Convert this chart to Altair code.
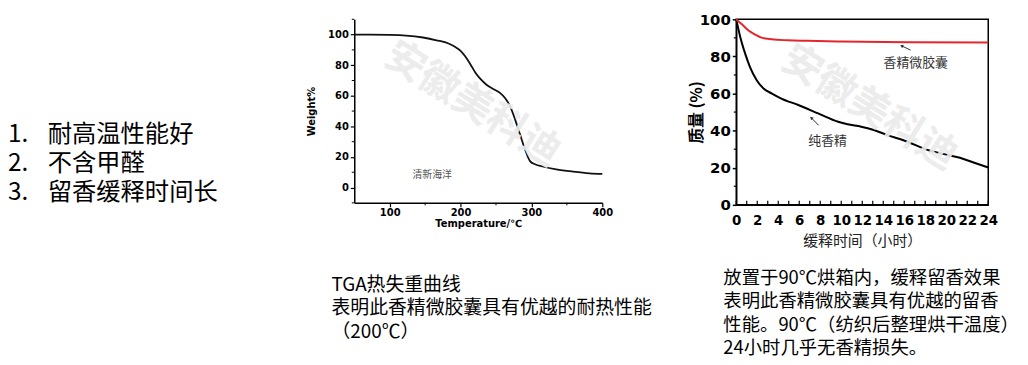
import altair as alt
import pandas as pd

# ---------------- data ----------------
list_nums = ["1.", "2.", "3."]
list_texts = ["耐高温性能好", "不含甲醛", "留香缓释时间长"]

tga_temp = [50, 100, 123, 147, 166, 183, 192, 200, 207, 214, 221, 228, 237, 246, 256,
            263, 270, 277, 284, 291, 298, 305, 317, 335, 359, 382, 400]
tga_weight = [100, 99.8, 99.4, 98.1, 96.3, 94.2, 92, 89.4, 85.5, 80.5, 75.1, 71, 67.1, 64.5, 61.7,
              58.4, 53, 44.4, 34.6, 24.9, 17.3, 15.2, 13.6, 11.9, 10.4, 9.3, 8.9]
tga_xticks = [100, 200, 300, 400]
tga_yticks = [0, 20, 40, 60, 80, 100]
tga_xminor = [150, 250, 350]
tga_yminor = [-10, 10, 30, 50, 70, 90, 110]
tga_label = ["清新海洋"]
tga_label_x = [160]
tga_label_y = [8]

caps_tga = ["TGA热失重曲线", "表明此香精微胶囊具有优越的耐热性能", "（200℃）"]
caps_rel = ["放置于90℃烘箱内，缓释留香效果", "表明此香精微胶囊具有优越的留香",
            "性能。90℃（纺织后整理烘干温度）", "24小时几乎无香精损失。"]

red_t = [0, 0.54, 1.17, 1.8, 2.4, 3.4, 4.9, 6.8, 10, 16.3, 24]
red_m = [100, 97.3, 94, 91.8, 90.1, 89.2, 88.7, 88.4, 88, 87.6, 87.5]
blk_t = [0, 0.38, 0.85, 1.3, 1.95, 2.6, 3.4, 4.3, 5.9, 7.8, 9.7, 10.6, 11.9, 13.1, 14.4,
         16.3, 18.2, 20.1, 21.3, 22.6, 24]
blk_m = [100, 90.5, 81.5, 74.4, 67.2, 62.7, 60, 57.3, 53.8, 49.3, 44.8, 43.4, 42.1, 40.3, 37.6,
         34, 29.6, 26.9, 25.4, 22.8, 20.1]
rel_xticks = list(range(0, 25, 2))
rel_xminor = list(range(0, 25))
rel_yticks = [0, 20, 40, 60, 80, 100]
rel_yminor = [10, 30, 50, 70, 90]
rel_labels = ["香精微胶囊", "纯香精"]
rel_label_x = [17.1, 8.7]
rel_label_y = [76.5, 34.2]
arrow_tail_x = [16.6, 7.84]
arrow_tail_y = [83.4, 42.9]
arrow_head_x = [15.75, 7.15]
arrow_head_y = [85.7, 46.9]
arrow_angle = [295, 315]

watermark = "安徽美科迪"

CJK = "Noto Sans CJK SC"
NUMF = "DejaVu Sans"

# ---------------- left list panel ----------------
list_df = pd.DataFrame({"num": list_nums, "txt": list_texts, "i": list(range(len(list_nums)))})
lbase = alt.Chart(list_df).transform_calculate(py="117 + 29*datum.i")
l_nums = lbase.mark_text(align="left", baseline="middle", font=CJK, fontSize=24.5, color="black").encode(
    x=alt.value(-1), y=alt.Y("py:Q", scale=None), text="num:N")
l_txts = lbase.mark_text(align="left", baseline="middle", font=CJK, fontSize=24.5, color="black").encode(
    x=alt.value(39), y=alt.Y("py:Q", scale=None), text="txt:N")
left = alt.layer(l_nums, l_txts).properties(width=213, height=187)

# ---------------- TGA chart ----------------
TW, TH = 250, 185
xs = alt.Scale(domain=[50, 400], nice=False, zero=False)
ys = alt.Scale(domain=[-10, 110], nice=False, zero=False)
tga_df = pd.DataFrame({"T": tga_temp, "W": tga_weight})

tga_line = alt.Chart(tga_df).mark_line(color="#111111", strokeWidth=1.8, interpolate="monotone").encode(
    x=alt.X("T:Q", scale=xs, axis=alt.Axis(
        values=tga_xticks, tickCount=50, format="d", title="Temperature/℃", grid=False,
        domainColor="black", domainWidth=1.5, tickColor="black", tickSize=4, tickWidth=1.2,
        labelFont=NUMF, labelFontWeight="bold", labelFontSize=10, labelColor="black", labelPadding=1,
        labelOverlap=False, labelFlush=False, titleFont=NUMF, titleFontWeight="bold",
        titleFontSize=10, titleColor="black", titleBaseline="middle", titleY=21)),
    y=alt.Y("W:Q", scale=ys, axis=alt.Axis(
        values=tga_yticks, tickCount=50, format="d", title="Weight%", grid=False,
        domainColor="black", domainWidth=1.5, tickColor="black", tickSize=4, tickWidth=1.2,
        labelFont=NUMF, labelFontWeight="bold", labelFontSize=10, labelColor="black", labelPadding=2,
        labelOverlap=False, labelFlush=False, titleFont=NUMF, titleFontWeight="bold",
        titleFontSize=10, titleColor="black", titleBaseline="middle", titleX=-43, titleY=TH / 2)),
)
tga_ymin = alt.Chart(pd.DataFrame({"v": tga_yminor})).mark_rule(color="black", strokeWidth=1).encode(
    x=alt.value(0), x2=alt.value(-2.5), y=alt.Y("v:Q", scale=ys))
tga_xmin = alt.Chart(pd.DataFrame({"v": tga_xminor})).mark_rule(color="black", strokeWidth=1).encode(
    x=alt.X("v:Q", scale=xs), y=alt.value(TH), y2=alt.value(TH + 2.5))
tga_lab = alt.Chart(pd.DataFrame({"t": tga_label, "x": tga_label_x, "y": tga_label_y})).mark_text(
    font=CJK, fontSize=10, color="#555555").encode(
    x=alt.X("x:Q", scale=xs), y=alt.Y("y:Q", scale=ys), text="t:N")
tga_wm = alt.Chart(pd.DataFrame({"t": [watermark], "x": [216.6], "y": [54.2]})).mark_text(
    font=CJK, fontSize=40, fontWeight="bold", color="#ebebeb", opacity=0.9, angle=32).encode(
    x=alt.X("x:Q", scale=xs), y=alt.Y("y:Q", scale=ys), text="t:N")
cap1 = alt.Chart(pd.DataFrame({"t": caps_tga, "i": list(range(len(caps_tga)))})).transform_calculate(
    py="268 + 23.5*datum.i").mark_text(align="left", baseline="middle", font=CJK, fontSize=19,
                                        color="black").encode(
    x=alt.value(-23), y=alt.Y("py:Q", scale=None), text="t:N")
tga = alt.layer(tga_line, tga_ymin, tga_xmin, tga_lab, tga_wm, cap1).properties(width=TW, height=TH)

# ---------------- release chart ----------------
RW, RH = 254, 187
xs2 = alt.Scale(domain=[0, 24], nice=False)
ys2 = alt.Scale(domain=[0, 100], nice=False)
red_df = pd.DataFrame({"t": red_t, "m": red_m})
blk_df = pd.DataFrame({"t": blk_t, "m": blk_m})

xax = alt.Axis(values=rel_xticks, tickCount=50, format="d", title="缓释时间（小时）", grid=False,
               domainColor="black", domainWidth=1.5, ticks=False, tickSize=0, labelFont=NUMF,
               labelFontWeight="bold", labelFontSize=13.5, labelColor="black", labelPadding=9,
               labelFlush=False, labelOverlap=False, titleFont=CJK, titleFontWeight="normal",
               titleFontSize=15, titleColor="#222222", titleBaseline="middle", titleY=36)
yax = alt.Axis(values=rel_yticks, tickCount=50, format="d", title="质量 (%)", grid=False,
               domainColor="black", domainWidth=1.5, tickColor="black", tickSize=4, tickWidth=1.5,
               labelFont=NUMF, labelFontWeight="bold", labelFontSize=15, labelColor="black",
               labelPadding=2, labelFlush=False, labelOverlap=False, titleFont=CJK,
               titleFontWeight="bold", titleFontSize=16, titleColor="black", titleBaseline="middle",
               titleX=-40, titleY=RH / 2)

r_blk = alt.Chart(blk_df).mark_line(color="black", strokeWidth=2, interpolate="monotone").encode(
    x=alt.X("t:Q", scale=xs2, axis=xax), y=alt.Y("m:Q", scale=ys2, axis=yax))
r_red = alt.Chart(red_df).mark_line(color="#e3262d", strokeWidth=2, interpolate="monotone").encode(
    x=alt.X("t:Q", scale=xs2), y=alt.Y("m:Q", scale=ys2))
r_xmin = alt.Chart(pd.DataFrame({"v": rel_xminor})).mark_rule(color="black", strokeWidth=1.2).encode(
    x=alt.X("v:Q", scale=xs2), y=alt.value(RH), y2=alt.value(RH - 4))
r_ymin = alt.Chart(pd.DataFrame({"v": rel_yminor})).mark_rule(color="black", strokeWidth=1.2).encode(
    x=alt.value(0), x2=alt.value(-2.5), y=alt.Y("v:Q", scale=ys2))
r_lab = alt.Chart(pd.DataFrame({"t": rel_labels, "x": rel_label_x, "y": rel_label_y})).mark_text(
    font=CJK, fontSize=13, color="#333333").encode(
    x=alt.X("x:Q", scale=xs2), y=alt.Y("y:Q", scale=ys2), text="t:N")
arr_df = pd.DataFrame({"x": arrow_tail_x, "y": arrow_tail_y, "x2": arrow_head_x, "y2": arrow_head_y,
                       "a": arrow_angle})
r_arr = alt.Chart(arr_df).mark_rule(color="#333333", strokeWidth=1).encode(
    x=alt.X("x:Q", scale=xs2), y=alt.Y("y:Q", scale=ys2), x2="x2:Q", y2="y2:Q")
r_head = alt.Chart(arr_df).mark_point(shape="triangle-up", filled=True, color="#333333", size=14,
                                      opacity=1).encode(
    x=alt.X("x2:Q", scale=xs2), y=alt.Y("y2:Q", scale=ys2),
    angle=alt.Angle("a:Q", scale=None))
r_wm = alt.Chart(pd.DataFrame({"t": [watermark], "x": [12.66], "y": [52.1]})).mark_text(
    font=CJK, fontSize=40, fontWeight="bold", color="#ebebeb", opacity=0.9, angle=32).encode(
    x=alt.X("x:Q", scale=xs2), y=alt.Y("y:Q", scale=ys2), text="t:N")
cap2 = alt.Chart(pd.DataFrame({"t": caps_rel, "i": list(range(len(caps_rel)))})).transform_calculate(
    py="261 + 23.4*datum.i").mark_text(align="left", baseline="middle", font=CJK, fontSize=18.5,
                                        color="black").encode(
    x=alt.value(-13), y=alt.Y("py:Q", scale=None), text="t:N")
rel = alt.layer(r_blk, r_red, r_xmin, r_ymin, r_lab, r_arr, r_head, r_wm, cap2).properties(
    width=RW, height=RH, view=alt.ViewBackground(stroke="black", strokeWidth=1.5))

chart = alt.hconcat(left, tga, rel, spacing=135, bounds="flush").properties(
    padding={"left": 0, "top": 2, "right": 0, "bottom": 0}, background="white"
).configure_view(stroke=None).configure_axis(labelOverlap=False)

chart.save("out.html", embed_options={"renderer": "svg", "actions": False})
